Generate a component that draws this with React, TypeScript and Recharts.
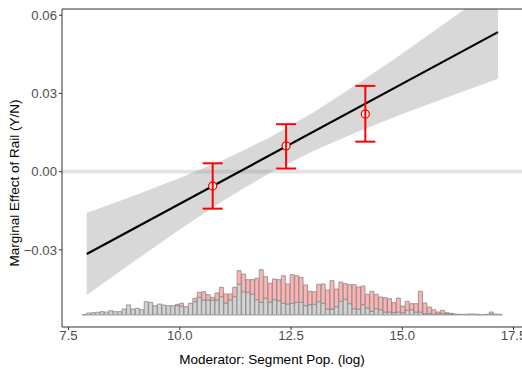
import React from 'react';
import {
  ComposedChart, XAxis, YAxis, Line, Area, Bar, Scatter, ErrorBar, ReferenceLine,
} from 'recharts';

// axis ticks
const xTicks = [7.5, 10, 12.5, 15, 17.5];
const yTicks = [-0.03, 0, 0.03, 0.06];

// linear marginal effect (ends of the fitted line)
const fitX = [7.91, 17.15];
const fitY = [-0.0316, 0.0535];

// confidence band
const bandX = [7.91, 9, 10, 11, 12, 13, 14, 15, 16, 17.15];
const bandLo = [-0.0473, -0.0341, -0.0222, -0.0109, -0.0007, 0.0079, 0.0153, 0.0221, 0.0284, 0.0356];
const bandHi = [-0.0159, -0.0091, -0.0024, 0.0047, 0.0129, 0.0227, 0.0337, 0.0453, 0.0574, 0.0714];

// binned estimates (tercile points)
const binX = [10.74, 12.39, 14.17];
const binY = [-0.0055, 0.0099, 0.0221];
const binLo = [-0.0142, 0.0012, 0.0115];
const binHi = [0.0032, 0.0182, 0.0329];

// histogram of the moderator (control = gray, total incl. treated = pink top)
const histStart = 7.81;
const binWidth = 0.0994;
const histGray = [
  0.3, 2, 2.3, 2.7, 3.3, 3, 4.3, 3.3, 3.3, 6, 10, 6, 6.7, 5.3, 13.3, 12.7, 9.3, 11, 10,
  9.3, 9.3,
  9.3, 8.7, 8.3, 11.7, 13.3, 17.7, 15, 15, 15, 15, 18.3, 12, 15, 18.3, 31, 23.3, 22.7,
  21, 15.3, 12.7, 17, 12.7, 15.3, 14.3, 11.7, 11, 11.7, 12.7, 12.7, 9.3, 10.3, 10.7, 13.3, 11.7, 6, 6, 8.3,
  13.7, 15.7, 11.3, 6.3, 5.7, 10.3, 7, 3.7, 6.3, 5.3, 3, 3, 2.3, 3, 2.3, 4.7, 5.3, 3, 3,
  1.3, 1.3, 0.7, 1.3, 1.3, 1.3, 1, 1, 0.7, 0.7, 1, 1, 0.7, 0.3, 0.7, 0.7, 1, 0.7,
];
const histTotal = [
  0.3, 2, 2.3, 2.7, 3.3, 3, 4.3, 3.3, 3.3, 6, 10, 6, 6.7, 5.3, 13.3, 12.7, 9.3, 11, 10,
  9.3, 9.3,
  10.7, 11.7, 8.3, 11.7, 16.7, 22.7, 23.3, 20.3, 17.7, 22, 27.7, 21, 21, 27.7, 44.3, 41, 35.3,
  35.3, 36.7, 45.3, 38.3, 31.7, 36, 35.3, 39.3, 31, 40.3, 39.3, 37.7, 30, 23.7, 23.3, 30.7, 31, 25, 34.3, 26,
  33, 31.3, 30.3, 30.3, 28, 29, 20.7, 23.7, 20.7, 18, 17.3, 16.3, 12.3, 17, 9, 13.7, 11.3, 11.3, 23.7,
  12, 8, 5.3, 3, 4.7, 2.3, 1.7, 1, 0.7, 0.7, 1, 1, 0.7, 0.3, 0.7, 3, 1, 0.7,
];

const X_DOMAIN = [7.354, 17.758];
const Y_DOMAIN = [-0.0596, 0.0624];

const histData = histGray.map((g, i) => ({
  x: histStart + binWidth * (i + 0.5),
  gray: g,
  pink: Math.max(0, histTotal[i] - g),
}));
const fitData = fitX.map((x, i) => ({ x, y: fitY[i] }));
const bandData = bandX.map((x, i) => ({ x, band: [bandLo[i], bandHi[i]] }));
const binData = binX.map((x, i) => ({ x, y: binY[i], err: [binY[i] - binLo[i], binHi[i] - binY[i]] }));
// thick light zero line, drawn as a thin band so the CI ribbon shades it
const zeroData = X_DOMAIN.map((x) => ({ x, band: [-0.0007, 0.0007] }));

const fmtY = (v: number) => (v < 0 ? '\u2212' + Math.abs(v).toFixed(2) : v.toFixed(2));
const font = '"Liberation Sans", Arial, Helvetica, sans-serif';

export default function App() {
  return (
    <div style={{ position: 'absolute', left: 0, top: 0, width: 522, height: 369, overflow: 'hidden', background: '#fff', fontFamily: font }}>
      <ComposedChart
        width={540}
        height={369}
        data={histData}
        margin={{ top: 9, right: 15, bottom: 12, left: 0 }}
        barCategoryGap={0}
        barGap={0}
      >
        <XAxis
          xAxisId="x"
          type="number"
          dataKey="x"
          domain={X_DOMAIN}
          ticks={xTicks}
          allowDataOverflow
          height={30}
          tickSize={3}
          tickMargin={1}
          stroke="#333333"
          tick={{ fill: '#4d4d4d', fontSize: 13.2 }}
          tickFormatter={(v: number) => v.toFixed(1)}
        />
        <XAxis xAxisId="hx" type="number" dataKey="x" domain={X_DOMAIN} allowDataOverflow hide height={0} />
        <YAxis
          yAxisId="y"
          type="number"
          domain={Y_DOMAIN}
          ticks={yTicks}
          allowDataOverflow
          width={62}
          tickSize={3}
          tickMargin={2}
          stroke="#333333"
          tick={{ fill: '#4d4d4d', fontSize: 13.2 }}
          tickFormatter={fmtY}
        />
        <YAxis yAxisId="h" type="number" domain={[-12, 306]} allowDataOverflow hide width={0} />

        <ReferenceLine xAxisId="x" yAxisId="y" y={Y_DOMAIN[1]} stroke="#333333" strokeWidth={1} />

        <Area
          xAxisId="x"
          yAxisId="y"
          data={zeroData}
          dataKey="band"
          type="linear"
          stroke="none"
          fill="#e3e3e3"
          fillOpacity={1}
          isAnimationActive={false}
        />
        <Area
          xAxisId="x"
          yAxisId="y"
          data={bandData}
          dataKey="band"
          type="linear"
          stroke="none"
          fill="#7f7f7f"
          fillOpacity={0.3}
          isAnimationActive={false}
        />
        <Line
          xAxisId="x"
          yAxisId="y"
          data={fitData}
          dataKey="y"
          stroke="#000"
          strokeWidth={2.1}
          dot={false}
          isAnimationActive={false}
        />

        <Bar xAxisId="hx" yAxisId="h" dataKey="gray" stackId="h" fill="#d3d3d3" stroke="#888888" strokeWidth={0.8} isAnimationActive={false} />
        <Bar xAxisId="hx" yAxisId="h" dataKey="pink" stackId="h" fill="#ffb3b3" stroke="#888888" strokeWidth={0.8} isAnimationActive={false} />

        <Scatter
          xAxisId="x"
          yAxisId="y"
          data={binData}
          dataKey="y"
          isAnimationActive={false}
          shape={(p: any) => <circle cx={p.cx} cy={p.cy} r={4} fill="#fff" stroke="#ff0000" strokeWidth={1.3} />}
        />
        <Scatter
          xAxisId="x"
          yAxisId="y"
          data={binData}
          dataKey="y"
          isAnimationActive={false}
          shape={(p: any) => <line x1={p.cx} x2={p.cx} y1={p.cy - 4} y2={p.cy + 4} stroke="#ff0000" strokeWidth={2} />}
        >
          <ErrorBar dataKey="err" direction="y" width={10} stroke="#ff0000" strokeWidth={2} />
        </Scatter>
      </ComposedChart>
      <svg width={522} height={369} style={{ position: 'absolute', left: 0, top: 0, pointerEvents: 'none' }}>
        <text x={272} y={364} textAnchor="middle" fontSize={13.5} fill="#000" fontFamily={font}>
          Moderator: Segment Pop. (log)
        </text>
        <text
          x={0}
          y={0}
          transform="translate(19,183) rotate(-90)"
          textAnchor="middle"
          fontSize={13.5}
          fill="#000"
          fontFamily={font}
        >
          Marginal Effect of Rail (Y/N)
        </text>
      </svg>
    </div>
  );
}
